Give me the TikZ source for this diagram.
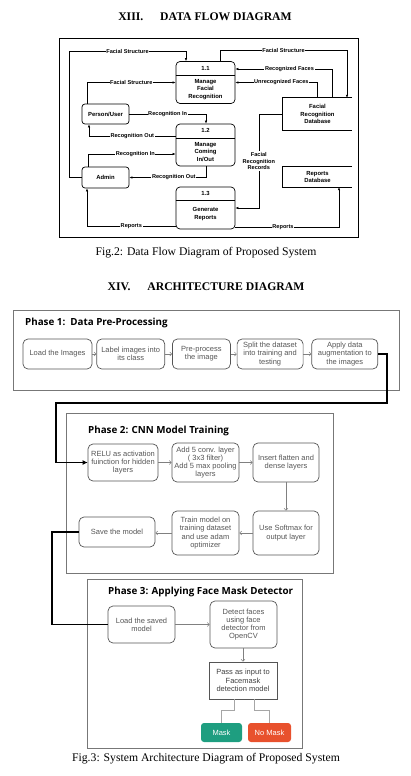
\documentclass[tikz,border=0pt]{standalone}
\usepackage{fontspec}
\setmainfont{Liberation Serif}
\setsansfont{Liberation Sans}
\newfontfamily\phasefont{Open Sans}
\usetikzlibrary{positioning, arrows.meta}
\definecolor{maskgreen}{HTML}{1E9E80}
\definecolor{nomaskred}{HTML}{E8512D}
\definecolor{boxgray}{HTML}{555555}
\definecolor{framegray}{HTML}{777777}
\tikzset{
    x=1pt, y=-1pt, % pixel-like units, y grows downwards
    >={Latex[length=3pt,width=2.4pt]}, % small filled heads for the data flows
    proc/.style={draw, line width=0.7pt, rounded corners=4pt, minimum width=59pt, minimum height=42pt},
    ptext/.style={align=center, font=\sffamily\bfseries\fontsize{5.9}{7.7}\selectfont},
    ent/.style={draw, line width=0.7pt, rounded corners=3pt, minimum width=47pt, minimum height=20pt, font=\sffamily\bfseries\fontsize{5.9}{7}\selectfont},
    store/.style={minimum width=69pt, align=center, font=\sffamily\bfseries\fontsize{5.9}{7.7}\selectfont},
    flow/.style={->, line width=0.5pt},
    lbl/.style={fill=white, inner sep=0.6pt, align=center, font=\sffamily\bfseries\fontsize{5.6}{6.9}\selectfont},
    phase/.style={draw=framegray, line width=0.8pt},
    phasetitle/.style={anchor=west, inner sep=0pt, font=\phasefont\bfseries\fontsize{9.8}{11}\selectfont},
    stepbox/.style={draw=boxgray, line width=0.7pt, rounded corners=5pt, align=center, text=boxgray, inner sep=1pt, font=\sffamily\fontsize{7.5}{8.2}\selectfont},
    stepflow/.style={-{Straight Barb[length=2pt,width=4pt]}, draw=gray, line width=0.5pt},
    bigflow/.style={line width=1.6pt},
    result/.style={rounded corners=3pt, text=white, minimum height=19pt, font=\sffamily\fontsize{7.5}{8}\selectfont},
    heading/.style={font=\bfseries\fontsize{11.7}{13}\selectfont},
    caption/.style={font=\fontsize{11.7}{13}\selectfont},
}

\begin{document}
\begin{tikzpicture}
\useasboundingbox (0,0) rectangle (410,776);

% ---------- data flow diagram ----------
\node[heading] (dfdtitle) at (205,17) {XIII.\hspace{14pt} DATA FLOW DIAGRAM};
\draw[line width=0.9pt] (59,38) rectangle (358,237);

\node[proc] (p11) at (205.5,82.5) {};
\node[proc] (p12) at (205.5,145) {};
\node[proc] (p13) at (205.5,208) {};
\draw[line width=0.7pt] ([yshift=-14pt]p11.north west) -- ([yshift=-14pt]p11.north east);
\draw[line width=0.7pt] ([yshift=-15pt]p12.north west) -- ([yshift=-15pt]p12.north east);
\draw[line width=0.7pt] ([yshift=-14pt]p13.north west) -- ([yshift=-14pt]p13.north east);
\node[ptext] (n11) at ([yshift=-7pt]p11.north) {1.1};
\node[ptext] (n12) at ([yshift=-7pt]p12.north) {1.2};
\node[ptext] (n13) at ([yshift=-7pt]p13.north) {1.3};
\node[ptext] (t11) at ([yshift=-7pt]p11.center) {Manage\\Facial\\Recognition};
\node[ptext] (t12) at ([yshift=-7pt]p12.center) {Manage\\Coming\\In/Out};
\node[ptext] (t13) at ([yshift=-6pt]p13.center) {Generate\\Reports};

\node[ent] (user) at (105.5,114) {Person/User};
\node[ent, minimum height=21pt] (admin) at (105.5,177.5) {Admin};

\node[store, minimum height=32pt] (frdb) at (317.5,114) {Facial\\Recognition\\Database};
\node[store, minimum height=20pt] (rptdb) at (317.5,177) {Reports\\Database};
\draw[line width=0.7pt] (frdb.north east) -- (frdb.north west) -- (frdb.south west) -- (frdb.south east);
\draw[line width=0.7pt] (rptdb.north east) -- (rptdb.north west) -- (rptdb.south west) -- (rptdb.south east);

\draw[flow] (admin.west) -| (69,51) -| node[lbl, pos=0.25] {Facial Structure} ([xshift=-19.5pt]p11.north);
\draw[flow] ([xshift=-18.5pt]user.north) |- node[lbl, pos=0.75] {Facial Structure} (p11.west);
\draw[flow] ([xshift=14.5pt]p11.north) -- ++(0,-11) -| node[lbl, pos=0.25] {Facial Structure} ([xshift=29.5pt]frdb.north);
\draw[flow] ([xshift=14.5pt]frdb.north) |- node[lbl, pos=0.72] {Recognized Faces} ([yshift=13.5pt]p11.east);
\draw[flow] (frdb.north) |- node[lbl, pos=0.72] {Unrecognized Faces} (p11.east);
\draw[flow] (user.east) -| node[lbl, pos=0.25] {Recognition In} ([xshift=0.5pt]p12.north);
\draw[flow] ([yshift=9pt]p12.west) -| node[lbl, pos=0.25] {Recognition Out} ([xshift=-16.5pt]user.south);
\draw[flow] ([xshift=-17.5pt]admin.north) |- node[lbl, pos=0.77] {Recognition In} ([yshift=-9pt]p12.west);
\draw[flow] ([xshift=0.5pt]p12.south) |- node[lbl, pos=0.71] {Recognition Out} (admin.east);
\draw[flow] (frdb.west) -- ++(-24,0) |- node[lbl, pos=0.25] {Facial\\Recognition\\Records} (p13.east);
\draw[flow] ([yshift=-18pt]p13.west) -| node[lbl, pos=0.25] {Reports} ([xshift=-18.5pt]admin.south);
\draw[flow] ([yshift=-19pt]p13.east) -| node[lbl, pos=0.23] {Reports} ([xshift=21.5pt]rptdb.south);

\node[caption] (cap2) at (206,253) {Fig.2: Data Flow Diagram of Proposed System};

% ---------- architecture diagram ----------
\node[heading] (archtitle) at (206,287) {XIV.\hspace{14pt} ARCHITECTURE DIAGRAM};

% phase 1
\draw[phase] (13,310) rectangle (399,390);
\node[phasetitle] (ph1) at (25,323) {Phase 1:\ \ Data Pre-Processing};
\node[stepbox, minimum width=69pt, minimum height=30pt] (load) at (57.5,354) {Load the Images};
\node[stepbox, minimum width=68pt, minimum height=30pt, right=4pt of load] (labelimg) {Label images into\\its class};
\node[stepbox, minimum width=58pt, minimum height=30pt, right=7pt of labelimg] (prep) {Pre-process\\the image};
\node[stepbox, minimum width=66pt, minimum height=30pt, right=6pt of prep] (split) {Split the dataset\\into training and\\testing};
\node[stepbox, minimum width=66pt, minimum height=30pt, right=8pt of split] (augm) {Apply data\\augmentation to\\the images};
\draw[stepflow] (load) -- (labelimg);
\draw[stepflow] (labelimg) -- (prep);
\draw[stepflow] (prep) -- (split);
\draw[stepflow] (split) -- (augm);

% phase 2
\draw[phase] (66,413) rectangle (333,573);
\node[phasetitle] (ph2) at (88,431) {Phase 2: CNN Model Training};
\node[stepbox, minimum width=70pt, minimum height=37pt] (relu) at (123,462.5) {RELU as activation\\fuinction for hidden\\layers};
\node[stepbox, minimum width=67pt, minimum height=39pt] (conv) at (205.5,462.5) {Add 5 conv. layer\\( 3x3 filter)\\Add 5 max pooling\\layers};
\node[stepbox, minimum width=66pt, minimum height=39pt] (flat) at (286,462.5) {Insert flatten and\\dense layers};
\node[stepbox, minimum width=66pt, minimum height=44pt] (soft) at (286,533) {Use Softmax for\\output layer};
\node[stepbox, minimum width=67pt, minimum height=44pt] (train) at (205.5,533) {Train model on\\training dataset\\and use adam\\optimizer};
\node[stepbox, minimum width=76pt, minimum height=30pt] (save) at (117,532) {Save the model};
\draw[stepflow] (relu) -- (conv);
\draw[stepflow] (conv) -- (flat);
\draw[stepflow] (flat) -- (soft);
\draw[stepflow] (soft) -- (train);
\draw[stepflow] (train.west) -- (train.west -| save.east);

\draw[bigflow, -{Latex[length=5pt,width=5pt]}] (augm.east) -| (387,403) -| (56,462.5) -- (relu.west);

% phase 3
\draw[phase] (87,579) rectangle (302,748);
\node[phasetitle] (ph3) at (108,592) {Phase 3: Applying Face Mask Detector};
\node[stepbox, minimum width=67pt, minimum height=37pt] (loadm) at (141.5,624.5) {Load the saved\\model};
\node[stepbox, minimum width=67pt, minimum height=47pt] (detect) at (243.5,624.5) {Detect faces\\using face\\detector from\\OpenCV};
\node[stepbox, rounded corners=0pt, text=black!75, minimum width=68pt, minimum height=37pt] (pass) at (243,680.5) {Pass as input to\\Facemask\\detection model};
\node[result, fill=maskgreen, minimum width=41pt] (mask) at (221.5,732.5) {Mask};
\node[result, fill=nomaskred, minimum width=43pt] (nomask) at (269.5,732.5) {No Mask};
\draw[stepflow] (loadm) -- (detect);
\draw[stepflow] (detect.south -| pass.north) -- (pass.north);
\draw[gray!70, line width=0.5pt] ([xshift=-9pt]pass.south) -- ++(0,11) -| (mask.north);
\draw[gray!70, line width=0.5pt] ([xshift=11pt]pass.south) -- ++(0,11) -| (nomask.north);

\draw[bigflow] (save.west) -| (52,624.5) -- (loadm.west);

\node[caption] (cap3) at (206,759) {Fig.3: System Architecture Diagram of Proposed System};
\end{tikzpicture}
\end{document}
